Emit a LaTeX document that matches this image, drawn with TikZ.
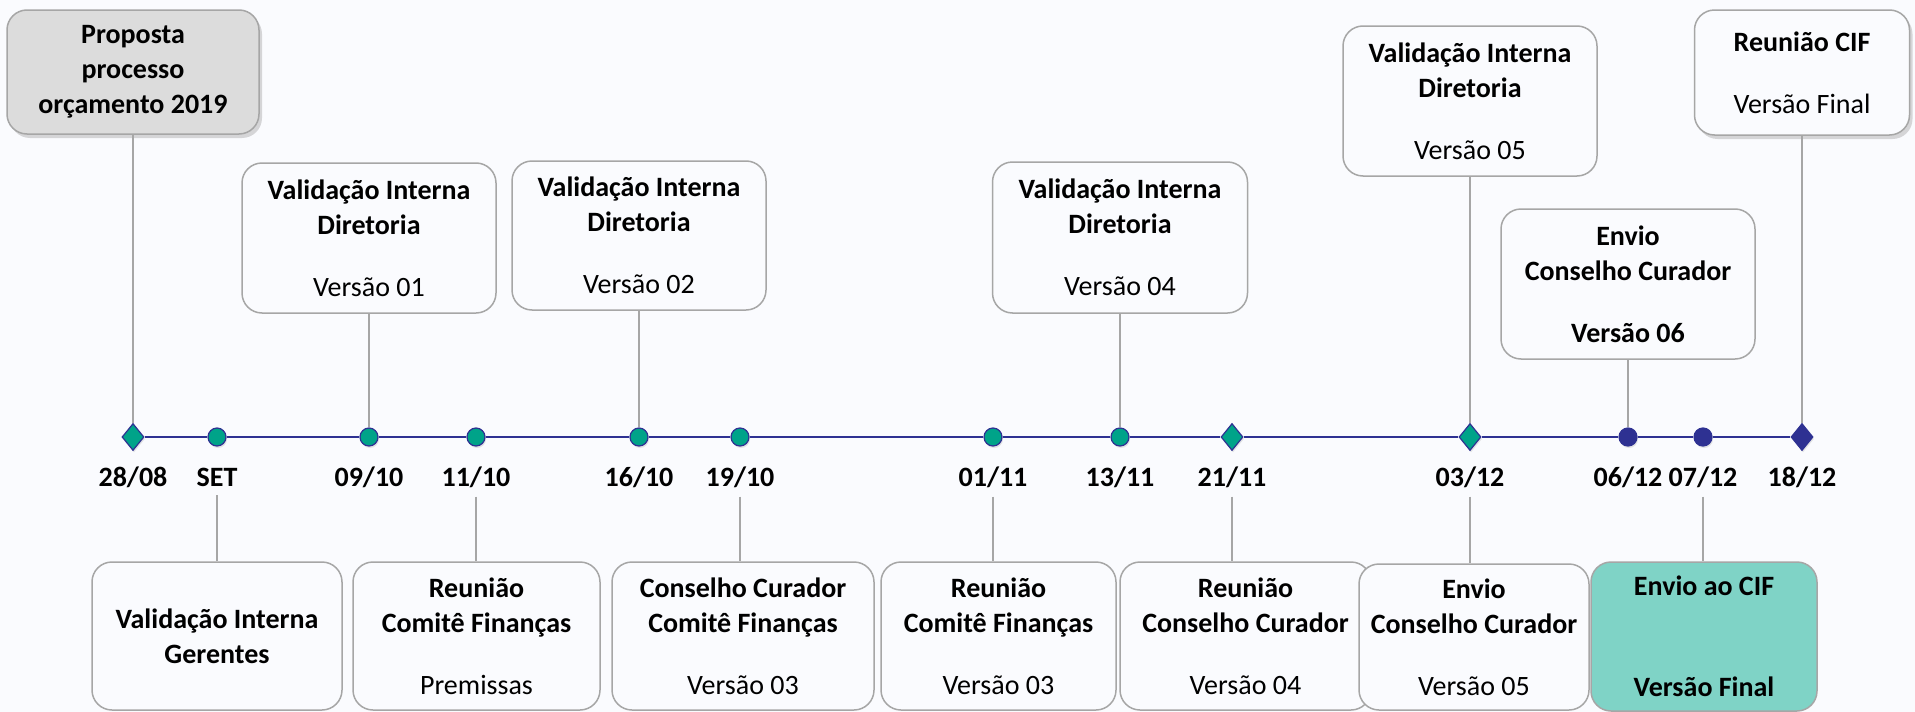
\documentclass[tikz,border=0pt]{standalone}
\usepackage{fontspec}
\setmainfont{Carlito}
\usetikzlibrary{shapes.geometric, shadows, positioning}

\definecolor{bgcol}{RGB}{250,251,254}
\definecolor{navy}{RGB}{46,49,146}
\definecolor{mint}{RGB}{0,163,137}
\definecolor{edgegray}{RGB}{166,166,166}
\definecolor{boxgray}{RGB}{220,220,220}
\definecolor{cifgreen}{RGB}{127,211,198}

\begin{document}
\begin{tikzpicture}[
      x=1pt, y=-1pt,
      box/.style={rectangle, draw=edgegray, line width=1.5pt, rounded corners=20pt, fill=bgcol, align=center, inner sep=2pt, font=\fontsize{28}{35}\selectfont},
      soft/.style={drop shadow={opacity=0.3, shadow xshift=3pt, shadow yshift=-4pt}},
      dot/.style={circle, draw=navy, line width=1.2pt, fill=mint, minimum size=18pt, inner sep=0pt, drop shadow={opacity=0.2, shadow xshift=1pt, shadow yshift=-2pt}},
      gem/.style={diamond, draw=navy, line width=1.2pt, fill=mint, minimum width=22pt, minimum height=27pt, inner sep=0pt, drop shadow={opacity=0.2, shadow xshift=1pt, shadow yshift=-2pt}},
      dotn/.style={dot, fill=navy},
      gemn/.style={gem, fill=navy},
      date/.style={font=\bfseries\fontsize{28}{33}\selectfont, inner xsep=2pt, inner ysep=9pt},
      link/.style={draw=edgegray, line width=1.5pt},
      axis/.style={draw=navy, line width=2.5pt}
    ]

    \fill[bgcol] (0,0) rectangle (1915,712);
    \useasboundingbox (0,0) rectangle (1915,712);

    % Timeline markers
    \foreach \x/\n/\s in {133/0828/gem, 217/set/dot, 369/0910/dot, 476/1110/dot, 639/1610/dot, 740/1910/dot,
                          993/0111/dot, 1120/1311/dot, 1232/2111/gem, 1470/0312/gem, 1628/0612/dotn,
                          1703/0712/dotn, 1802/1812/gemn}
      \node[\s] (m\n) at (\x,437) {};

    \foreach \a/\b in {0828/set, set/0910, 0910/1110, 1110/1610, 1610/1910, 1910/0111, 0111/1311,
                       1311/2111, 2111/0312, 0312/0612, 0612/0712, 0712/1812}
      \draw[axis] (m\a) -- (m\b);

    % Dates
    \node[date] (d0828) at (m0828 |- 0,477) {28/08};
    \node[date] (dset) at (mset |- 0,477) {SET};
    \node[date] (d0910) at (m0910 |- 0,477) {09/10};
    \node[date] (d1110) at (m1110 |- 0,477) {11/10};
    \node[date] (d1610) at (m1610 |- 0,477) {16/10};
    \node[date] (d1910) at (m1910 |- 0,477) {19/10};
    \node[date] (d0111) at (m0111 |- 0,477) {01/11};
    \node[date] (d1311) at (m1311 |- 0,477) {13/11};
    \node[date] (d2111) at (m2111 |- 0,477) {21/11};
    \node[date] (d0312) at (m0312 |- 0,477) {03/12};
    \node[date] (d0612) at (m0612 |- 0,477) {06/12};
    \node[date] (d0712) at (m0712 |- 0,477) {07/12};
    \node[date] (d1812) at (m1812 |- 0,477) {18/12};

    % Upper boxes
    \node[box, fill=boxgray, soft, minimum width=252pt, minimum height=124pt] (prop) at (133,72)
      {\textbf{Proposta}\\\textbf{processo}\\\textbf{orçamento 2019}};
    \node[box, minimum width=254pt, minimum height=150pt] (v01) at (369,238)
      {\textbf{Validação Interna}\\\textbf{Diretoria}\\[27pt]Versão 01};
    \node[box, minimum width=254pt, minimum height=149pt] (v02) at (639,235.5)
      {\textbf{Validação Interna}\\\textbf{Diretoria}\\[27pt]Versão 02};
    \node[box, minimum width=255pt, minimum height=151pt] (v04) at (1120,237.5)
      {\textbf{Validação Interna}\\\textbf{Diretoria}\\[27pt]Versão 04};
    \node[box, minimum width=254pt, minimum height=150pt] (v05) at (1470,101)
      {\textbf{Validação Interna}\\\textbf{Diretoria}\\[27pt]Versão 05};
    \node[box, minimum width=254pt, minimum height=150pt] (v06) at (1628,284)
      {\textbf{Envio}\\\textbf{Conselho Curador}\\[27pt]\textbf{Versão 06}};
    \node[box, soft, minimum width=215pt, minimum height=125pt] (rcif) at (1802,72.5)
      {\textbf{Reunião CIF}\\[27pt]Versão Final};

    % Lower boxes
    \node[box, minimum width=250pt, minimum height=148pt] (vger) at (217,636)
      {\textbf{Validação Interna}\\\textbf{Gerentes}};
    \node[box, minimum width=247pt, minimum height=148pt] (rcf) at (476.5,636)
      {\textbf{Reunião}\\\textbf{Comitê Finanças}\\[27pt]Premissas};
    \node[box, minimum width=262pt, minimum height=148pt] (ccf) at (743,636)
      {\textbf{Conselho Curador}\\\textbf{Comitê Finanças}\\[27pt]Versão 03};
    \node[box, minimum width=235pt, minimum height=148pt] (rcf3) at (998.5,636)
      {\textbf{Reunião}\\\textbf{Comitê Finanças}\\[27pt]Versão 03};
    \node[box, minimum width=251pt, minimum height=148pt] (rcc) at (1245.5,636)
      {\textbf{Reunião}\\\textbf{Conselho Curador}\\[27pt]Versão 04};
    \node[box, minimum width=230pt, minimum height=146pt] (ecc) at (1474,637)
      {\textbf{Envio}\\\textbf{Conselho Curador}\\[27pt]Versão 05};
    \node[box, fill=cifgreen, minimum width=226pt, minimum height=149pt] (ecif) at (1704,636.5)
      {\textbf{Envio ao CIF}\\[66pt]\textbf{Versão Final}};

    % Connections
    \draw[link] (prop) -- (m0828);
    \draw[link] (v01) -- (m0910);
    \draw[link] (v02) -- (m1610);
    \draw[link] (v04) -- (m1311);
    \draw[link] (v05) -- (m0312);
    \draw[link] (v06) -- (m0612);
    \draw[link] (rcif) -- (m1812);
    \draw[link] (dset) -- (dset |- vger.north);
    \draw[link] (d1110) -- (d1110 |- rcf.north);
    \draw[link] (d1910) -- (d1910 |- ccf.north);
    \draw[link] (d0111) -- (d0111 |- rcf3.north);
    \draw[link] (d2111) -- (d2111 |- rcc.north);
    \draw[link] (d0312) -- (d0312 |- ecc.north);
    \draw[link] (d0712) -- (d0712 |- ecif.north);
  \end{tikzpicture}
\end{document}
